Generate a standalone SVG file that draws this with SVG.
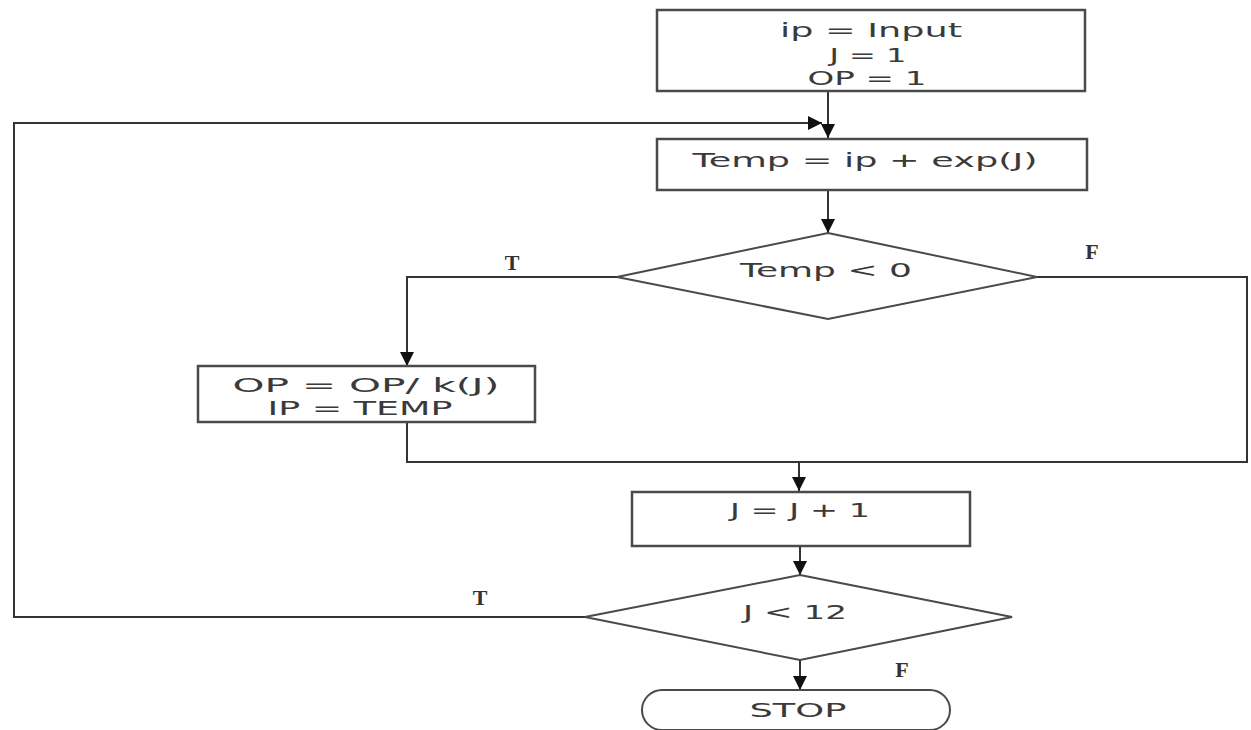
<svg xmlns="http://www.w3.org/2000/svg" width="1251" height="730" viewBox="0 0 1251 730">
<style>
.box{fill:#fff;stroke:#4a4a4a;stroke-width:2.5}
.txt{font-family:"DejaVu Sans",sans-serif;font-size:19px;fill:#3a3a3a;text-anchor:middle}
.lbl{font-family:"Liberation Serif",serif;font-size:22px;font-weight:bold;fill:#333;text-anchor:middle}
.con{fill:none;stroke:#333;stroke-width:2}
</style>
<defs>
<marker id="arrB" viewBox="0 0 10 10" refX="10" refY="5" markerWidth="14" markerHeight="14" markerUnits="userSpaceOnUse" orient="auto">
<path d="M0,0 L10,5 L0,10 z" fill="#111"/>
</marker>
</defs>
<g id="connectors">
<path class="con" d="M828,91 V138" marker-end="url(#arrB)"/>
<path class="con" d="M828,190 V233" marker-end="url(#arrB)"/>
<path class="con" d="M617,277 H407 V366" marker-end="url(#arrB)"/>
<path class="con" d="M407,422 V462 H1247 V277 H1037"/>
<path class="con" d="M799,462 V491" marker-end="url(#arrB)"/>
<path class="con" d="M800,546 V575" marker-end="url(#arrB)"/>
<path class="con" d="M800,660 V690" marker-end="url(#arrB)"/>
<path class="con" d="M585,617 H14 V123 H822" marker-end="url(#arrB)"/>
<text class="lbl" x="512" y="270">T</text>
<text class="lbl" x="1092" y="259">F</text>
<text class="lbl" x="480" y="605">T</text>
<text class="lbl" x="902" y="677">F</text>
</g>
<g id="init">
<rect class="box" x="657" y="10" width="428" height="81"/>
<text class="txt" x="871" y="37" textLength="182" lengthAdjust="spacingAndGlyphs">ip = Input</text>
<text class="txt" x="868" y="62" textLength="77" lengthAdjust="spacingAndGlyphs">J = 1</text>
<text class="txt" x="867" y="85" textLength="119" lengthAdjust="spacingAndGlyphs">OP = 1</text>
</g>
<g id="temp">
<rect class="box" x="657" y="139" width="430" height="51"/>
<text class="txt" x="865" y="167" textLength="345" lengthAdjust="spacingAndGlyphs">Temp = ip + exp(J)</text>
</g>
<g id="cond1">
<polygon class="box" points="828,233 1037,277 828,319 617,277" style="stroke-width:2"/>
<text class="txt" x="826" y="277" textLength="172" lengthAdjust="spacingAndGlyphs">Temp &lt; 0</text>
</g>
<g id="update">
<rect class="box" x="198" y="366" width="337" height="56"/>
<text class="txt" x="366" y="392" textLength="267" lengthAdjust="spacingAndGlyphs">OP = OP/ k(J)</text>
<text class="txt" x="360" y="415" textLength="185" lengthAdjust="spacingAndGlyphs">IP = TEMP</text>
</g>
<g id="incr">
<rect class="box" x="632" y="492" width="338" height="54"/>
<text class="txt" x="800" y="517" textLength="140" lengthAdjust="spacingAndGlyphs">J = J + 1</text>
</g>
<g id="cond2">
<polygon class="box" points="800,575 1012,617 800,660 585,617" style="stroke-width:2"/>
<text class="txt" x="795" y="619" textLength="104" lengthAdjust="spacingAndGlyphs">J &lt; 12</text>
</g>
<g id="stop">
<rect class="box" x="642" y="690" width="308" height="40" rx="20" ry="20" style="stroke-width:2"/>
<text class="txt" x="798" y="717" textLength="97" lengthAdjust="spacingAndGlyphs">STOP</text>
</g>
</svg>
